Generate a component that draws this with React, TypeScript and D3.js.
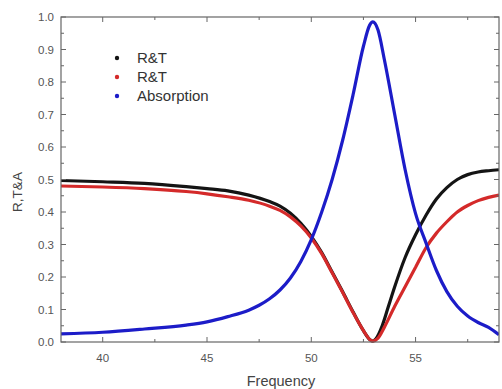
import React from "react";
import * as d3 from "d3";

const freqA = [38, 40, 42, 44, 45, 46, 47, 48, 48.5, 49, 49.5, 50, 50.5, 51, 51.5, 52, 52.5, 52.8, 52.95, 53.1, 53.4, 53.7, 54, 54.5, 55, 55.5, 56, 56.5, 57, 57.5, 58, 58.5, 59];
const rtBlack = [0.497, 0.493, 0.488, 0.478, 0.472, 0.465, 0.452, 0.432, 0.418, 0.396, 0.365, 0.325, 0.275, 0.215, 0.155, 0.093, 0.035, 0.008, 0.003, 0.01, 0.05, 0.11, 0.17, 0.26, 0.33, 0.39, 0.44, 0.475, 0.5, 0.515, 0.523, 0.527, 0.53];

const freqB = [38, 40, 42, 44, 45, 46, 47, 48, 48.5, 49, 49.5, 50, 50.5, 51, 51.5, 52, 52.5, 52.8, 52.95, 53.2, 53.5, 54, 54.5, 55, 55.5, 56, 56.5, 57, 57.5, 58, 58.5, 59];
const rtRed = [0.48, 0.477, 0.472, 0.463, 0.456, 0.447, 0.436, 0.418, 0.405, 0.385, 0.357, 0.32, 0.272, 0.213, 0.153, 0.091, 0.035, 0.008, 0.003, 0.012, 0.045, 0.11, 0.17, 0.23, 0.29, 0.335, 0.37, 0.4, 0.42, 0.435, 0.445, 0.452];

const freqC = [38, 40, 42, 44, 45, 46, 47, 47.5, 48, 48.5, 49, 49.5, 50, 50.5, 51, 51.5, 52, 52.5, 52.8, 52.95, 53.2, 53.5, 54, 54.5, 55, 55.5, 56, 56.5, 57, 57.5, 58, 58.5, 59];
const absorption = [0.025, 0.03, 0.04, 0.052, 0.062, 0.078, 0.098, 0.113, 0.133, 0.16, 0.197, 0.248, 0.315, 0.4, 0.5, 0.62, 0.76, 0.91, 0.975, 0.985, 0.96, 0.87, 0.7, 0.53, 0.395, 0.305, 0.22, 0.155, 0.11, 0.08, 0.06, 0.045, 0.022];

const xTicks = [40, 45, 50, 55];
const xMinor = [42.5, 47.5, 52.5, 57.5];
const yTicks = [0, 0.1, 0.2, 0.3, 0.4, 0.5, 0.6, 0.7, 0.8, 0.9, 1.0];
const legendLabels = ["R&T", "R&T", "Absorption"];
const seriesColors = ["#141414", "#d42a2a", "#1c1cc8"];

export default function App() {
  const W = 502, H = 389;
  const left = 61, right = 499, top = 17, bottom = 342;
  const x = d3.scaleLinear().domain([38, 59]).range([left, right]);
  const y = d3.scaleLinear().domain([0, 1]).range([bottom, top]);
  const line = d3.line<[number, number]>().x(d => x(d[0])).y(d => y(d[1])).curve(d3.curveMonotoneX);
  const series = [
    { f: freqA, v: rtBlack },
    { f: freqB, v: rtRed },
    { f: freqC, v: absorption },
  ];
  const yMinor = d3.range(0.05, 1, 0.1);
  const axisColor = "#666";
  const font = "Liberation Sans, Arial, sans-serif";
  return (
    <svg width={W} height={H} style={{ position: "absolute", left: 0, top: 0, background: "#fff" }}>
      <defs>
        <clipPath id="plot"><rect x={left} y={top - 2} width={right - left} height={bottom - top + 4} /></clipPath>
      </defs>
      {series.map((s, i) => (
        <path key={i} d={line(s.f.map((f, j) => [f, s.v[j]] as [number, number])) || ""} fill="none" stroke={seriesColors[i]} strokeWidth={3.2} clipPath="url(#plot)" strokeLinejoin="round" />
      ))}
      <rect x={left} y={top} width={right - left} height={bottom - top} fill="none" stroke={axisColor} strokeWidth={1.2} />
      {xTicks.map(t => (
        <g key={"x" + t}>
          <line x1={x(t)} x2={x(t)} y1={bottom} y2={bottom - 5} stroke={axisColor} />
          <line x1={x(t)} x2={x(t)} y1={top} y2={top + 5} stroke={axisColor} />
          <text x={x(t)} y={362} fontSize={11.5} fill="#555" textAnchor="middle" fontFamily={font}>{t}</text>
        </g>
      ))}
      {xMinor.map(t => (
        <g key={"xm" + t}>
          <line x1={x(t)} x2={x(t)} y1={bottom} y2={bottom - 3} stroke={axisColor} />
          <line x1={x(t)} x2={x(t)} y1={top} y2={top + 3} stroke={axisColor} />
        </g>
      ))}
      {yTicks.map(t => (
        <g key={"y" + t}>
          <line x1={left} x2={left + 5} y1={y(t)} y2={y(t)} stroke={axisColor} />
          <line x1={right} x2={right - 5} y1={y(t)} y2={y(t)} stroke={axisColor} />
          <text x={54} y={y(t) + 4} fontSize={11.5} fill="#555" textAnchor="end" fontFamily={font}>{t.toFixed(1)}</text>
        </g>
      ))}
      {yMinor.map(t => (
        <g key={"ym" + t}>
          <line x1={left} x2={left + 3} y1={y(t)} y2={y(t)} stroke={axisColor} />
          <line x1={right} x2={right - 3} y1={y(t)} y2={y(t)} stroke={axisColor} />
        </g>
      ))}
      <text x={281} y={386} fontSize={14.5} fill="#444" textAnchor="middle" fontFamily={font}>Frequency</text>
      <text transform={`translate(22,${192}) rotate(-90)`} fontSize={13.5} fill="#444" textAnchor="middle" fontFamily={font}>R,T&amp;A</text>
      {legendLabels.map((l, i) => (
        <g key={"l" + i}>
          <circle cx={117} cy={58 + i * 19} r={2.2} fill={seriesColors[i]} />
          <text x={137} y={58 + i * 19 + 5} fontSize={15} fill="#333" fontFamily={font}>{l}</text>
        </g>
      ))}
    </svg>
  );
}
